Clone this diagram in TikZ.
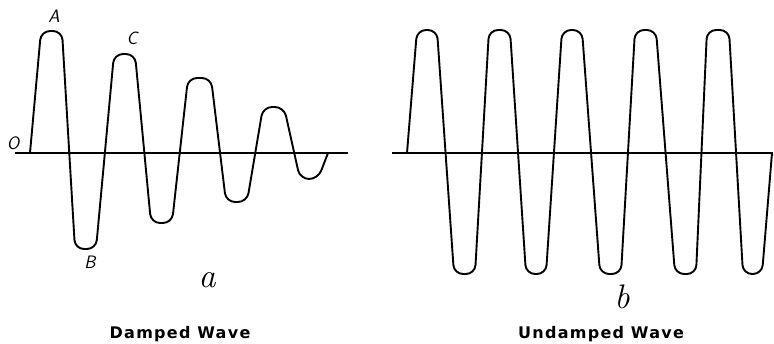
\documentclass[tikz,border=0pt]{standalone}
\usepackage{fontspec}
\usepackage{tikz}
\usetikzlibrary{positioning}
\newfontfamily\wavecapfont[LetterSpace=8]{DejaVu Sans}
\tikzset{
    waveline/.style={
        line width=1.9pt,
        rounded corners=9pt,
        line join=round
    },
    axisline/.style={
        line width=1.6pt
    },
    pointlabel/.style={
        inner sep=0pt,
        font=\fontsize{18}{18}\selectfont\sffamily\slshape
    },
    figlabel/.style={
        inner sep=0pt,
        font=\fontsize{34}{34}\selectfont\itshape
    },
    wavecaption/.style={
        inner sep=0pt,
        anchor=base,
        font=\wavecapfont\bfseries\fontsize{16}{16}\selectfont
    }
}

\begin{document}
\begin{tikzpicture}[x=1pt,y=-1pt]
    \useasboundingbox (0,0) rectangle (774,343);

    % Axes
    \coordinate (dampL) at (15,153);
    \coordinate (dampR) at (348,153);
    \coordinate (undampL) at (392,153);
    \coordinate (undampR) at (773,153);
    \draw[axisline] (dampL) -- (dampR);
    \draw[axisline] (undampL) -- (undampR);

    % Damped wave
    \draw[waveline] (30,153) -- (41,31) -- (62,31) -- (75,249) -- (96,249)
        -- (114,54) -- (135,54) -- (151,223) -- (172,223)
        -- (188,78) -- (211,78) -- (226,202) -- (247,202)
        -- (263,107) -- (284,107) -- (300,179) -- (318,179) -- (328,153);

    % Undamped wave
    \draw[waveline] (407,153) -- (417,30) -- (437,30) -- (454,274) -- (475,274)
        -- (489,30) -- (510,30) -- (526,274) -- (546,274)
        -- (562,30) -- (582,30) -- (600,274) -- (621,274)
        -- (635,30) -- (656,30) -- (675,274) -- (696,274)
        -- (707,30) -- (729,30) -- (743,274) -- (762,274) -- (772,153);

    % Point labels
    \node[pointlabel] (lblO) at (13,143) {O};
    \node[pointlabel] (lblA) at (54,16) {A};
    \node[pointlabel] (lblB) at (90,262) {B};
    \node[pointlabel] (lblC) at (132,38) {C};

    % Figure labels and captions
    \node[figlabel] (figa) at (207,280) {a};
    \node[figlabel] (figb) at (622,297) {b};
    \node[wavecaption] (capDamped) at (180,338) {Damped Wave};
    \node[wavecaption] (capUndamped) at (601,338) {Undamped Wave};
\end{tikzpicture}
\end{document}
